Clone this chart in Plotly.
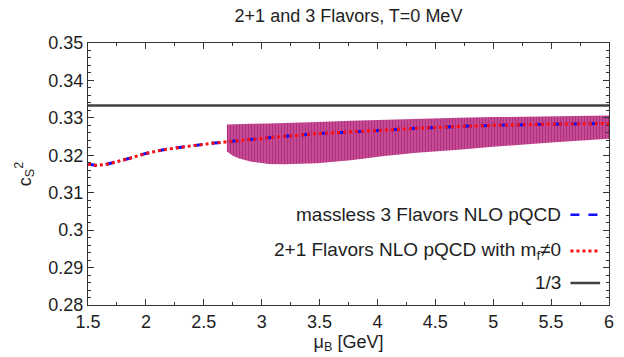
import plotly.graph_objects as go

# Central curve (both pQCD curves coincide)
mu = [1.5, 1.57, 1.65, 1.72, 1.86, 2.0, 2.14, 2.29, 2.43, 2.57, 2.7, 3.0, 3.2, 3.5, 3.77, 4.0,
      4.34, 4.7, 5.0, 5.5, 6.0]
cs2 = [0.3177, 0.3173, 0.3175, 0.3180, 0.3192, 0.3205, 0.3214, 0.3221, 0.3227, 0.3232, 0.3236,
       0.3245, 0.3251, 0.3258, 0.3263, 0.3267, 0.3272, 0.3277, 0.3280, 0.3283, 0.3285]

# Uncertainty band
band_mu = [2.7, 2.75, 2.8, 2.91, 3.06, 3.2, 3.48, 3.77, 4.06, 4.34, 4.7, 5.0, 5.5, 6.0]
band_lo = [0.3210, 0.3199, 0.3192, 0.3183, 0.3177, 0.3176, 0.3179, 0.3187, 0.3198, 0.3207,
           0.3215, 0.3223, 0.3234, 0.3244]
band_hi = [0.3282, 0.3282, 0.3283, 0.3284, 0.3285, 0.3287, 0.3289, 0.3292, 0.3295, 0.3297,
           0.3300, 0.3302, 0.3304, 0.3306]

conformal = 1 / 3
x_range = [1.5, 6]
y_range = [0.28, 0.35]
x_ticks = [1.5, 2, 2.5, 3, 3.5, 4, 4.5, 5, 5.5, 6]
y_ticks = [0.28, 0.29, 0.30, 0.31, 0.32, 0.33, 0.34, 0.35]
y_ticklabels = ["0.28", "0.29", "0.3", "0.31", "0.32", "0.33", "0.34", "0.35"]

labels = ["massless 3 Flavors NLO pQCD", "2+1 Flavors NLO pQCD with m<sub>f</sub>≠0", "1/3"]

FONT = "Liberation Sans, Arial, sans-serif"
FS = 18
TXT = "#1e1e1e"
band_color = "rgb(192,62,140)"

fig = go.Figure()
fig.add_trace(go.Scatter(x=band_mu, y=band_lo, mode="lines", line=dict(width=0, color=band_color),
                         showlegend=False, hoverinfo="skip"))
fig.add_trace(go.Scatter(x=band_mu, y=band_hi, mode="lines", line=dict(width=0, color=band_color),
                         fill="tonexty", fillcolor=band_color,
                         fillpattern=dict(shape="|", fgcolor="rgb(176,48,126)", bgcolor="rgb(200,78,150)",
                                          size=3, solidity=0.4, fillmode="replace"),
                         showlegend=False, hoverinfo="skip"))
fig.add_trace(go.Scatter(x=x_range, y=[conformal, conformal], mode="lines",
                         line=dict(color="#404040", width=2.5), showlegend=False))
fig.add_trace(go.Scatter(x=mu, y=cs2, mode="lines", line=dict(color="#1010ff", width=3, dash="dash"),
                         showlegend=False))
fig.add_trace(go.Scatter(x=mu, y=cs2, mode="lines", line=dict(color="#ff1010", width=3, dash="dot"),
                         showlegend=False))

# Manual gnuplot-style legend (text right, sample on the right)
leg_y = [0.344, 0.206, 0.084]
leg_styles = [dict(color="#1010ff", width=2.5, dash="dash"),
              dict(color="#ff1010", width=3, dash="dot"),
              dict(color="#404040", width=2.5)]
for lab, yy, st in zip(labels, leg_y, leg_styles):
    fig.add_annotation(x=0.911, y=yy, xref="paper", yref="paper", text=lab, showarrow=False,
                       xanchor="right", yanchor="middle", font=dict(family=FONT, size=19, color=TXT))
    fig.add_shape(type="line", xref="paper", yref="paper", x0=0.926, x1=0.983, y0=yy, y1=yy, line=st)

axis_common = dict(showgrid=False, zeroline=False, showline=True, linecolor="#333", linewidth=1,
                   mirror="ticks", ticks="inside", ticklen=6, tickcolor="#333",
                   tickfont=dict(family=FONT, size=FS, color=TXT))
fig.update_xaxes(range=x_range, tickvals=x_ticks, ticktext=[("%g" % v) for v in x_ticks],
                 minor=dict(ticks="inside", ticklen=3, dtick=0.25, tickcolor="#333"),
                 title=dict(text="μ<sub>B</sub> [GeV]", font=dict(family=FONT, size=FS, color=TXT), standoff=2),
                 **axis_common)
fig.update_yaxes(range=y_range, tickvals=y_ticks, ticktext=y_ticklabels,
                 minor=dict(ticks="inside", ticklen=3, dtick=0.002, tickcolor="#333"),
                 title=dict(text="c<sub>S</sub><sup>2</sup>", font=dict(family=FONT, size=FS, color=TXT), standoff=12),
                 **axis_common)

fig.update_layout(
    width=624, height=357,
    margin=dict(l=88, r=10, t=43, b=52),
    plot_bgcolor="white", paper_bgcolor="white",
    title=dict(text="2+1 and 3 Flavors, T=0 MeV", xref="paper", x=0.5, xanchor="center",
               yref="container", y=0.955, yanchor="middle",
               font=dict(family=FONT, size=18, color=TXT)),
    showlegend=False,
)

fig.write_html("out.html")
